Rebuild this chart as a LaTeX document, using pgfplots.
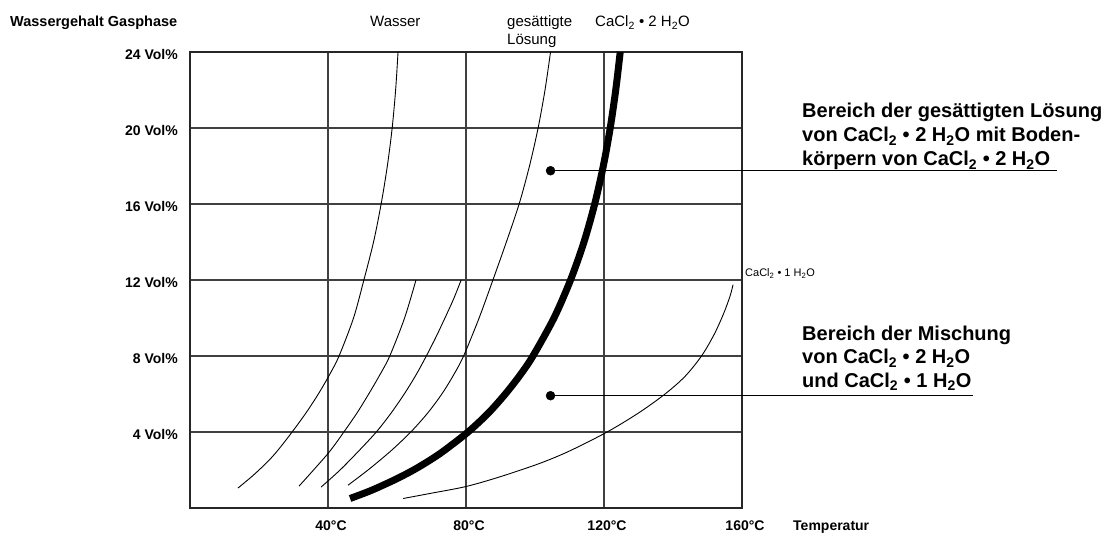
\documentclass[border=0pt]{standalone}
\usepackage{pgfplots}
\pgfplotsset{compat=1.18}
\usepackage{fontspec}
\setmainfont{Liberation Sans}
\begin{document}
\begin{tikzpicture}[x=1pt,y=1pt]
\path[use as bounding box] (0,0) rectangle (1115,534);
\begin{axis}[
  at={(190pt,26pt)}, anchor=south west,
  width=552pt, height=456pt, scale only axis,
  xmin=0, xmax=160, ymin=0, ymax=24,
  xtick={40,80,120,160},
  xticklabels={40°C,80°C,120°C,160°C},
  ytick={4,8,12,16,20,24},
  yticklabels={4 Vol\%,8 Vol\%,12 Vol\%,16 Vol\%,20 Vol\%,24 Vol\%},
  major tick length=0pt,
  grid=major,
  major grid style={line width=1.1pt, black!75},
  axis line style={line width=1.1pt, black!85},
  xticklabel style={anchor=base, inner sep=0pt, yshift=-23pt, xshift=3pt, font=\bfseries\fontsize{14}{16}\selectfont},
  yticklabel style={anchor=east, inner sep=0pt, xshift=-12pt, yshift=-3pt, font=\bfseries\fontsize{14}{16}\selectfont},
  clip=false,
]
% Wasser
\addplot[line width=0.9pt, smooth] coordinates {(13.9,1.05) (18.2,1.7) (22.3,2.4) (25.3,3) (29.6,4) (33.6,5) (37.2,6) (40.4,7) (43.2,8) (47.4,10) (50.4,12) (53.2,14) (55.4,16) (57.2,18) (58.6,20) (59.6,22) (60.3,24)};
% intermediate curves ending at 12 Vol%
\addplot[line width=0.9pt, smooth] coordinates {(31.6,1.15) (36.3,2.1) (40.6,3) (44.6,4) (48.4,5) (51.8,6) (55,7) (57.9,8) (62.2,10) (65.5,12)};
\addplot[line width=0.9pt, smooth] coordinates {(38,1.1) (43.5,2) (48.9,3) (54,4) (58.3,5) (62.1,6) (65.5,7) (68.5,8) (71.3,9) (73.9,10) (76.4,11) (78.6,12)};
% gesaettigte Loesung
\addplot[line width=0.9pt, smooth] coordinates {(45.8,1.2) (51.6,2) (58.2,3) (64,4) (68.9,5) (73,6) (76.4,7) (79.3,8) (83.8,10) (87.8,12) (91.7,14) (95.4,16) (98.4,18) (100.9,20) (102.9,22) (104.5,24)};
% CaCl2 . 2 H2O (thick)
\addplot[line width=7pt, smooth] coordinates {(46.4,0.5) (50.1,0.75) (53.5,1) (59.5,1.5) (64.8,2) (69.4,2.5) (73.5,3) (80.6,4) (86.5,5) (91.4,6) (95.7,7) (99.4,8) (105.5,10) (110.3,12) (114.2,14) (117.3,16) (119.8,18) (121.8,20) (123.4,22) (124.7,24)};
% CaCl2 . 1 H2O
\addplot[line width=0.9pt, smooth] coordinates {(61.8,0.5) (70,0.78) (80,1.13) (90,1.65) (101.4,2.35) (110,3.0) (120.9,4) (130,5) (137.7,6) (143.5,6.93) (148.3,8.01) (152,9.16) (154.8,10.29) (156.6,11.19) (157.4,11.75)};
% annotation lines and dots
\addplot[line width=1.3pt] coordinates {(104.5,17.75) (251.3,17.75)};
\addplot[line width=1.3pt] coordinates {(104.5,5.91) (227,5.91)};
\addplot[only marks, mark=*, mark size=4.5pt] coordinates {(104.5,17.75) (104.5,5.91)};
\end{axis}
\node[anchor=base west, inner sep=0pt] at (10,507) {\bfseries\fontsize{14.5}{17}\selectfont Wassergehalt Gasphase};
\node[anchor=base west, inner sep=0pt] at (370,507) {\fontsize{15}{17}\selectfont Wasser};
\node[anchor=base west, inner sep=0pt] at (507,507) {\fontsize{15}{17}\selectfont gesättigte};
\node[anchor=base west, inner sep=0pt] at (507,489) {\fontsize{15}{17}\selectfont Lösung};
\node[anchor=base west, inner sep=0pt] at (595,507) {\fontsize{15}{17}\selectfont CaCl\textsubscript{2} \textbullet\ 2 H\textsubscript{2}O};
\node[anchor=base west, inner sep=0pt] at (745,257) {\fontsize{11}{13}\selectfont CaCl\textsubscript{2} \textbullet\ 1 H\textsubscript{2}O};
\node[anchor=base west, inner sep=0pt] at (793,3) {\bfseries\fontsize{14}{16}\selectfont Temperatur};
\begin{scope}[every node/.style={anchor=base west, inner sep=0pt, font=\bfseries\fontsize{20}{24}\selectfont}]
\node at (802,416.3) {Bereich der gesättigten Lösung};
\node at (802,392) {von CaCl\textsubscript{2} \textbullet\ 2 H\textsubscript{2}O mit Boden-};
\node at (802,368) {körpern von CaCl\textsubscript{2} \textbullet\ 2 H\textsubscript{2}O};
\node at (802,193.3) {Bereich der Mischung};
\node at (802,170) {von CaCl\textsubscript{2} \textbullet\ 2 H\textsubscript{2}O};
\node at (802,146.7) {und CaCl\textsubscript{2} \textbullet\ 1 H\textsubscript{2}O};
\end{scope}
\end{tikzpicture}
\end{document}
